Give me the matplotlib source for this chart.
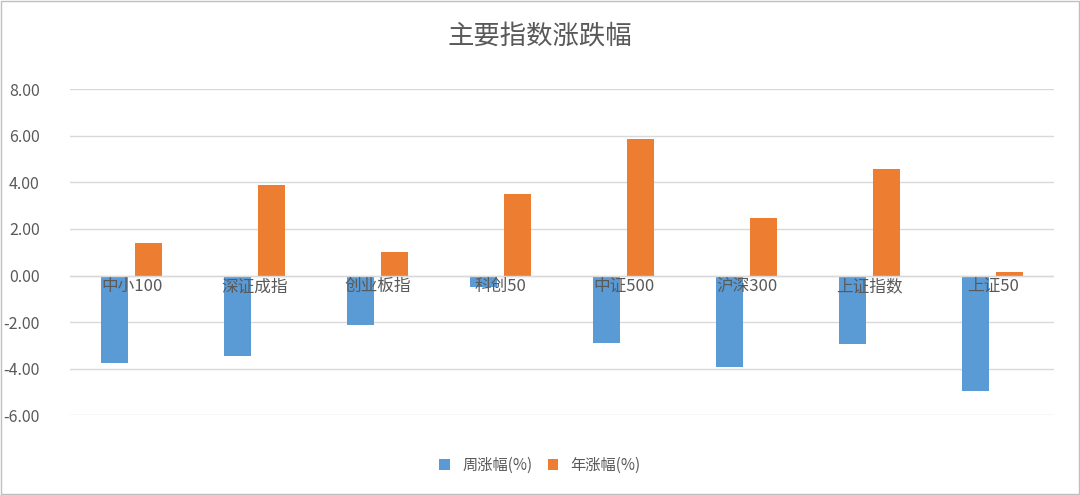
import numpy as np
import matplotlib
matplotlib.use('Agg')
import matplotlib.pyplot as plt

plt.rcParams['font.family'] = ['Noto Sans CJK SC', 'DejaVu Sans']

categories = ['中小100', '深证成指', '创业板指', '科创50', '中证500', '沪深300', '上证指数', '上证50']
weekly = [-3.76, -3.46, -2.14, -0.51, -2.91, -3.93, -2.95, -4.96]
annual = [1.41, 3.89, 1.03, 3.50, 5.85, 2.48, 4.57, 0.13]
yticks = [-6, -4, -2, 0, 2, 4, 6, 8]

BLUE, ORANGE = '#5B9BD5', '#ED7D31'

fig = plt.figure(figsize=(10.8, 4.95), dpi=100)
ax = fig.add_axes([0.065, 0.161, 0.911, 0.659])
x = np.arange(len(categories))
w = 0.22
ax.bar(x - 0.14, weekly, w, color=BLUE, label='周涨幅(%)', zorder=3)
ax.bar(x + 0.14, annual, w, color=ORANGE, label='年涨幅(%)', zorder=3)

ax.set_xlim(-0.5, len(categories) - 0.5)
ax.set_ylim(-6, 8)
ax.set_yticks(yticks)
ax.set_yticklabels([f'{v:.2f}' for v in yticks], fontsize=11.5, color='#595959')
ax.yaxis.grid(True, color='#D9D9D9', lw=1, zorder=0)
ax.axhline(0, color='#D9D9D9', lw=1, zorder=4)
ax.tick_params(length=0, pad=22)
ax.set_xticks([])
for s in ax.spines.values():
    s.set_visible(False)
for xi, c in zip(x, categories):
    ax.text(xi, -0.12, c, ha='center', va='top', fontsize=12, color='#595959', zorder=5)

fig.text(0.5, 0.925, '主要指数涨跌幅', ha='center', va='center', fontsize=19, color='#595959')
fig.legend(loc='center', bbox_to_anchor=(0.5, 0.06), ncol=2, frameon=False,
           fontsize=11, handlelength=0.7, handleheight=0.7, columnspacing=1.0,
           labelcolor='#595959')
fig.patches.append(plt.Rectangle((0.001, 0.002), 0.998, 0.996, transform=fig.transFigure,
                                 fill=False, ec='#BFBFBF', lw=1))
fig.savefig('out.png', dpi=100)
